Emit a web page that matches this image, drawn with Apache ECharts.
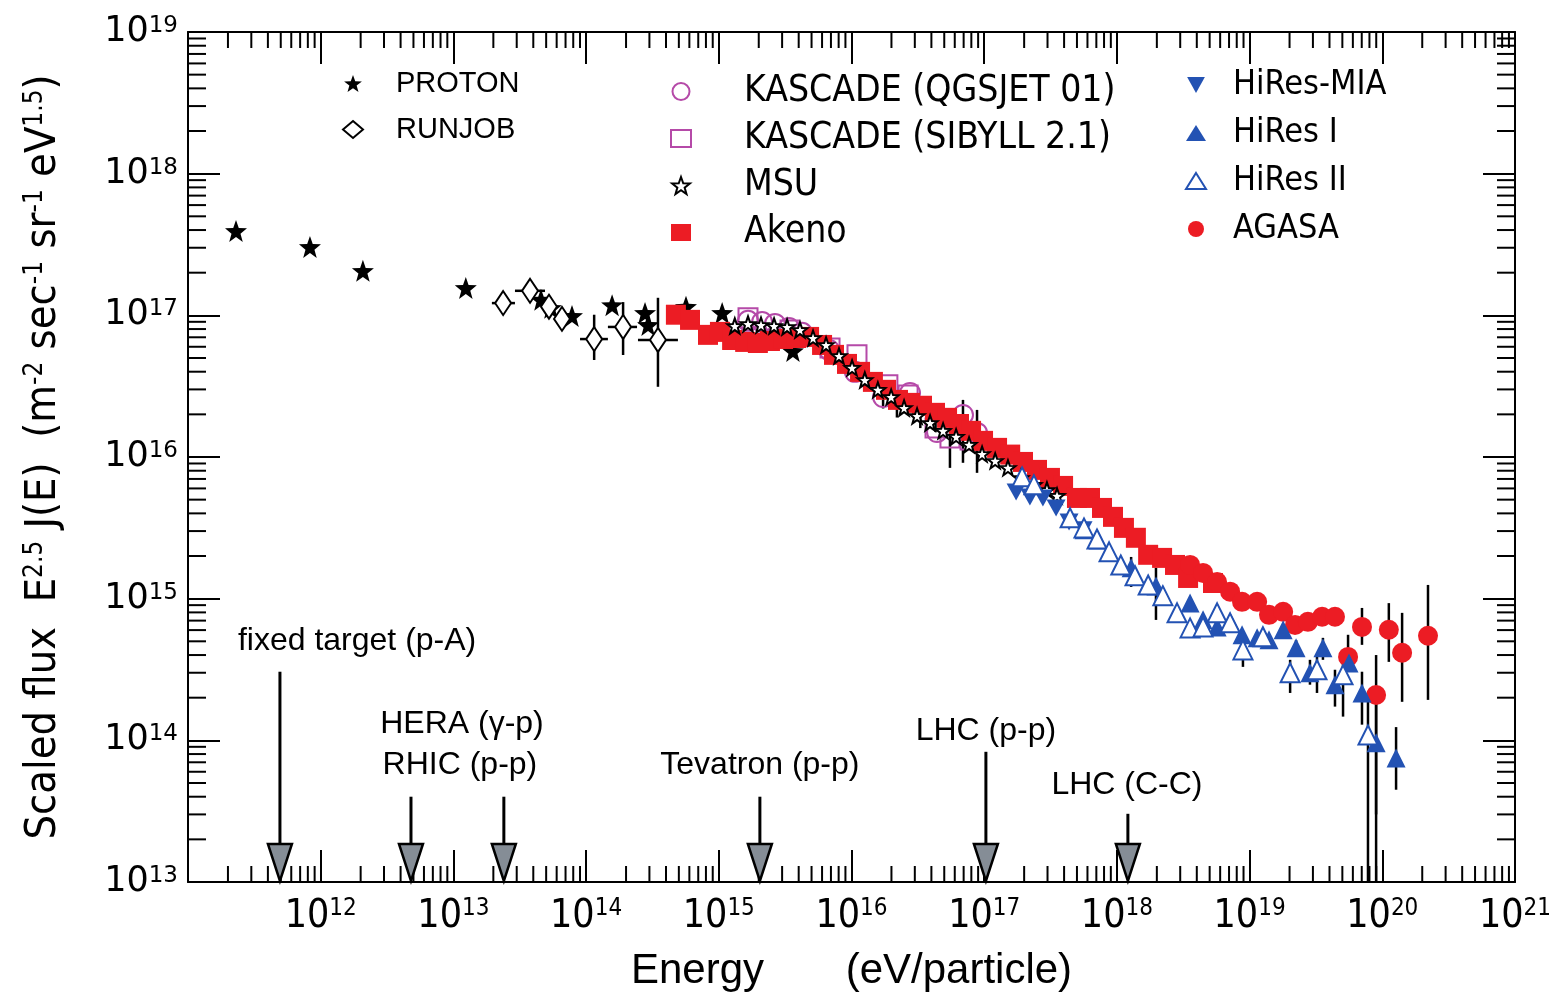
<!DOCTYPE html>
<html><head><meta charset="utf-8">
<script src="https://cdn.jsdelivr.net/npm/echarts/dist/echarts.min.js"></script>
<style>html,body{margin:0;padding:0;background:#fff}#c{width:1562px;height:997px}</style>
</head><body><div id="c"></div>
<script>
// ---------------- data ----------------
const xTickLabels = ['10^11','10^12','10^13','10^14','10^15','10^16','10^17','10^18','10^19','10^20','10^21'];
const proton = [[2.30e11,3.94e17],[8.3e11,3.04e17],[2.08e12,2.06e17],[1.24e13,1.56e17],[4.57e13,1.29e17],[5.43e13,1.13e17],[7.83e13,9.9e16],[1.57e14,1.18e17],[2.78e14,1.04e17],[2.93e14,8.55e16],[5.66e14,1.15e17],[1.06e15,1.04e17],[3.62e15,5.6e16]];
const runjob = [[2.37e13,1.22e17],[3.78e13,1.49e17],[5.25e13,1.15e17],[6.58e13,9.44e16],[1.15e14,6.8e16],[1.90e14,8.28e16],[3.48e14,6.7e16]];
const runjobErrV = [[6.58e13,7.9e16,1.13e17],[1.15e14,4.84e16,1.01e17],[1.90e14,5.25e16,1.24e17],[3.48e14,3.13e16,1.33e17]];
const runjobErrH = [[1.95e13,2.91e13,1.22e17],[2.91e13,4.9e13,1.49e17],[9.0e13,1.46e14,6.8e16],[1.46e14,2.42e14,8.28e16],[2.46e14,4.92e14,6.7e16]];
const kascadeQ = [[1.66e15,9.14e16],[2.12e15,8.98e16],[2.65e15,8.70e16],[3.38e15,8.15e16],[4.24e15,7.52e16],[6.78e15,5.70e16],[1.06e16,3.99e16],[1.73e16,2.65e16],[2.76e16,2.83e16],[4.41e16,1.50e16],[6.92e16,1.98e16],[8.83e16,1.48e16]];
const kascadeQErr = [[6.92e16,9.1e15,2.53e16],[8.83e16,7.73e15,2.15e16]];
const kascadeS = [[1.66e15,9.6e16],[3.44e15,7.89e16],[6.89e15,5.89e16],[1.10e16,5.26e16],[1.88e16,3.23e16],[2.67e16,2.74e16],[4.26e16,1.60e16],[5.52e16,1.36e16],[7.82e16,1.32e16]];
const kascadeSErr = [[5.52e16,8.38e15,2.05e16],[1.73e16,2.2e16,2.6e16],[2.2e16,1.9e16,2.5e16],[3.3e16,1.6e16,2.2e16],[4.3e16,1.5e16,2.0e16]];
const msu = [[1.32e15,8.42e16],[1.66e15,8.70e16],[2.08e15,8.55e16],[2.61e15,8.42e16],[3.27e15,8.28e16],[4.09e15,7.89e16],[5.13e15,6.92e16],[6.43e15,6.18e16],[8.05e15,5.17e16],[1.01e16,4.26e16],[1.26e16,3.50e16],[1.58e16,2.98e16],[1.99e16,2.65e16],[2.49e16,2.22e16],[3.12e16,1.95e16],[3.91e16,1.74e16],[4.90e16,1.53e16],[6.14e16,1.39e16],[7.69e16,1.22e16],[9.64e16,1.05e16],[1.21e17,9.39e15],[1.51e17,8.38e15],[1.89e17,7.12e15],[2.37e17,6.36e15],[2.97e17,5.86e15],[3.54e17,5.32e15]];
const akeno = [[4.75e14,1.01e17],[6.07e14,9.29e16],[8.29e14,7.28e16],[1.02e15,7.64e16],[1.26e15,6.70e16],[1.58e15,6.49e16],[1.97e15,6.38e16],[2.43e15,6.59e16],[3.05e15,6.81e16],[3.82e15,6.92e16],[4.79e15,7.04e16],[6.00e15,6.18e16],[7.38e15,5.26e16],[9.25e15,4.54e16],[1.16e16,3.99e16],[1.45e16,3.39e16],[1.82e16,2.98e16],[2.24e16,2.53e16],[2.76e16,2.41e16],[3.40e16,2.30e16],[4.26e16,2.05e16],[5.25e16,1.89e16],[6.46e16,1.71e16],[7.96e16,1.53e16],[9.8e16,1.30e16],[1.25e17,1.16e16],[1.57e17,1.04e16],[1.96e17,9.23e15],[2.50e17,8.11e15],[3.13e17,7.12e15],[3.93e17,6.25e15],[5.00e17,5.14e15],[6.27e17,5.14e15],[7.72e17,4.37e15],[9.35e17,3.78e15],[1.13e18,3.16e15],[1.39e18,2.69e15],[1.72e18,2.04e15],[2.19e18,1.94e15],[2.74e18,1.73e15],[3.44e18,1.40e15],[5.30e18,1.29e15]];
const hiresMIA = [[1.74e17,5.67e15],[2.21e17,5.23e15],[2.77e17,5.14e15],[3.48e17,4.37e15],[4.36e17,3.48e15],[5.56e17,3.06e15]];
const hiresI = [[5.65e17,3.06e15],[7.21e17,2.60e15],[1.28e18,1.65e15],[1.97e18,1.23e15],[3.56e18,9.33e14],[4.46e18,7.09e14],[5.69e18,6.32e14],[7.13e18,6.86e14],[8.77e18,5.56e14],[1.14e19,5.29e14],[1.40e19,5.12e14],[1.79e19,6.03e14],[2.24e19,4.50e14],[2.85e19,3.0e14],[3.57e19,4.50e14],[4.40e19,2.47e14],[5.61e19,3.52e14],[7.03e19,2.16e14],[8.98e19,9.6e13],[1.27e20,7.5e13]];
const hiresIErr = [[1.28e18,1.21e15,1.97e15],[1.97e18,7.08e14,1.65e15],[2.24e19,3.88e14,5.1e14],[2.85e19,2.47e14,3.70e14],[3.57e19,3.70e14,5.29e14],[4.40e19,1.73e14,3.15e14],[7.03e19,1.29e14,3.05e14],[8.98e19,1.0e13,1.93e14],[1.27e20,4.48e13,1.24e14]];
const hiresII = [[1.93e17,7.24e15],[2.37e17,6.36e15],[4.44e17,3.72e15],[5.65e17,3.16e15],[7.08e17,2.64e15],[8.73e17,2.14e15],[1.07e18,1.73e15],[1.37e18,1.45e15],[1.72e18,1.25e15],[2.22e18,1.05e15],[2.84e18,7.94e14],[3.56e18,6.22e14],[4.46e18,6.32e14],[5.69e18,7.94e14],[7.13e18,6.75e14],[8.91e18,4.35e14],[1.26e19,5.38e14],[2.02e19,3.0e14],[3.22e19,3.15e14],[5.06e19,2.90e14],[7.80e19,1.09e14]];
const hiresIIErr = [[8.91e18,3.30e14,4.87e14],[2.02e19,2.16e14,3.70e14],[3.22e19,2.16e14,3.88e14],[5.06e19,1.47e14,3.70e14],[7.80e19,1.0e13,1.93e14]];
const agasa = [[3.56e18,1.73e15],[4.46e18,1.52e15],[5.69e18,1.31e15],[7.13e18,1.12e15],[8.77e18,9.5e14],[1.14e19,9.5e14],[1.40e19,7.69e14],[1.79e19,8.07e14],[2.20e19,6.53e14],[2.75e19,6.86e14],[3.52e19,7.45e14],[4.40e19,7.45e14],[5.52e19,3.88e14],[7.03e19,6.32e14],[8.98e19,2.09e14],[1.12e20,6.03e14],[1.41e20,4.15e14],[2.21e20,5.47e14]];
const agasaErr = [[5.52e19,3.05e14,5.56e14],[7.03e19,4.72e14,8.6e14],[8.98e19,3.0e13,4.0e14],[1.12e20,3.58e14,9.3e14],[1.41e20,1.87e14,7.94e14],[2.21e20,1.93e14,1.25e15]];
// accelerator arrows: [energy, flux at top of arrow]
const arrowEnergies = [4.93e11, 4.79e12, 2.40e13, 2.04e15, 1.03e17, 1.21e18];
const arrowTops = [3.05e14, 4.0e13, 4.0e13, 4.0e13, 8.3e13, 3.03e13];
const arrowLabels = ['fixed target (p-A)', 'HERA (γ-p)', 'RHIC (p-p)', 'Tevatron (p-p)', 'LHC (p-p)', 'LHC (C-C)'];
const arrowLabelAt = [[1.88e12,5.04e14],[1.16e13,1.29e14],[1.12e13,6.71e13],[2.04e15,6.71e13],[1.03e17,1.17e14],[1.19e18,4.85e13]];

// ---------------- style ----------------
const NARROW = "'Liberation Sans Narrow','DejaVu Sans Condensed',sans-serif";
const REG = "'Liberation Sans',Arial,sans-serif";
const WIDE = "'DejaVu Sans',Verdana,sans-serif";
const RED = '#ec1c24', BLUE = '#2352b3', MAG = '#b54aa8';
const STAR = 'path://M12,0.5 L14.9,8.6 L23.5,8.9 L16.7,14.2 L19.1,22.5 L12,17.6 L4.9,22.5 L7.3,14.2 L0.5,8.9 L9.1,8.6 Z';
const DOWN_TRI = 'path://M0,0 L20,0 L10,18 Z';
const XMIN = 1e11, XMAX = 1e21, YMIN = 1e13, YMAX = 1e19;

const xMinor = [], yMinor = [];
for (let n = 11; n < 21; n++) for (let k = 2; k <= 9; k++) xMinor.push([k * Math.pow(10, n), YMIN]);
for (let n = 13; n < 19; n++) for (let k = 2; k <= 9; k++) yMinor.push([XMIN, k * Math.pow(10, n)]);

function expOf(v) { return Math.round(Math.log10(v)); }

const chart = echarts.init(document.getElementById('c'), null, {renderer: 'canvas'});

function vErr(data, name) {
  return {
    type: 'custom', name: name, data: data, z: 1, clip: false, silent: true,
    encode: {x: 0, y: [1, 2]},
    renderItem: function (p, api) {
      const a = api.coord([api.value(0), api.value(1)]);
      const b = api.coord([api.value(0), api.value(2)]);
      return {type: 'line', shape: {x1: a[0], y1: a[1], x2: b[0], y2: b[1]}, style: {stroke: '#000', lineWidth: 2.5}};
    }
  };
}
function hErr(data, name) {
  return {
    type: 'custom', name: name, data: data, z: 1, clip: false, silent: true,
    encode: {x: [0, 1], y: 2},
    renderItem: function (p, api) {
      const a = api.coord([api.value(0), api.value(2)]);
      const b = api.coord([api.value(1), api.value(2)]);
      return {type: 'line', shape: {x1: a[0], y1: a[1], x2: b[0], y2: b[1]}, style: {stroke: '#000', lineWidth: 2.5}};
    }
  };
}
function sc(name, data, symbol, size, color, border) {
  return {
    type: 'scatter', name: name, data: data, symbol: symbol, symbolSize: size, z: 3,
    itemStyle: {color: color, borderColor: border || color, borderWidth: border ? 2 : 0, opacity: 1},
    emphasis: {disabled: true}
  };
}

const axisCommon = {
  type: 'log', logBase: 10, interval: 1,
  axisLine: {show: true, onZero: false, lineStyle: {color: '#000', width: 2}},
  axisTick: {show: true, inside: true, length: 32, lineStyle: {color: '#000', width: 2}},
  minorTick: {show: false}, splitLine: {show: false}
};

const option = {
  backgroundColor: '#fff',
  animation: false,
  grid: {left: 188, right: 47, top: 32, bottom: 115, containLabel: false},
  xAxis: [
    Object.assign({}, axisCommon, {
      min: XMIN, max: XMAX, position: 'bottom',
      name: 'Energy       (eV/particle)', nameLocation: 'middle', nameGap: 68,
      nameTextStyle: {fontFamily: REG, fontSize: 42, color: '#000'},
      axisLabel: {
        margin: 15, color: '#000',
        formatter: function (v) { const e = expOf(v); return e === 11 ? '' : '{b|10}{s|' + e + '}'; },
        rich: {b: {fontFamily: NARROW, fontSize: 39, color: '#000'}, s: {fontFamily: NARROW, fontSize: 24, verticalAlign: 'top', color: '#000'}}
      }
    }),
    Object.assign({}, axisCommon, {min: XMIN, max: XMAX, position: 'top', axisLabel: {show: false}})
  ],
  yAxis: [
    Object.assign({}, axisCommon, {
      min: YMIN, max: YMAX, position: 'left',
      name: '{t|Scaled flux  E}{s|2.5}{t| J(E)  (m}{s|-2}{t| sec}{s|-1}{t| sr}{s|-1}{t| eV}{s|1.5}{t|)}',
      nameLocation: 'middle', nameRotate: 90, nameGap: 123,
      nameTextStyle: {
        fontFamily: NARROW, fontSize: 43, color: '#000',
        rich: {t: {fontFamily: NARROW, fontSize: 43, color: '#000'}, s: {fontFamily: NARROW, fontSize: 26, verticalAlign: 'top', color: '#000'}}
      },
      axisLabel: {
        margin: 10, color: '#000',
        formatter: function (v) { return '{b|10}{s|' + expOf(v) + '}'; },
        rich: {b: {fontFamily: WIDE, fontSize: 35, color: '#000'}, s: {fontFamily: WIDE, fontSize: 23, verticalAlign: 'top', color: '#000'}}
      }
    }),
    Object.assign({}, axisCommon, {min: YMIN, max: YMAX, position: 'right', axisLabel: {show: false}})
  ],
  legend: [
    {left: 342, top: 69, padding: 0, orient: 'vertical', itemWidth: 20, itemHeight: 17, itemGap: 17, selectedMode: false,
      textStyle: {fontFamily: REG, fontSize: 29, lineHeight: 28, color: '#000', padding: [0, 0, 0, 28]},
      data: ['PROTON', 'RUNJOB']},
    {left: 670, top: 73, padding: 0, orient: 'vertical', itemWidth: 20, itemHeight: 17, itemGap: 10, selectedMode: false,
      textStyle: {fontFamily: NARROW, fontSize: 37, lineHeight: 31, color: '#000', padding: [0, 0, 0, 48]},
      data: ['KASCADE (QGSJET 01)', 'KASCADE (SIBYLL 2.1)', 'MSU', 'Akeno']},
    {left: 1185, top: 68, padding: 0, orient: 'vertical', itemWidth: 20, itemHeight: 16, itemGap: 14, selectedMode: false,
      textStyle: {fontFamily: NARROW, fontSize: 34, lineHeight: 31, color: '#000', padding: [0, 0, 0, 22]},
      data: ['HiRes-MIA', 'HiRes I', 'HiRes II', 'AGASA']}
  ],
  series: [
    // minor ticks on all four sides
    {type: 'custom', data: xMinor, clip: false, silent: true, z: 0, encode: {x: 0, y: 1},
      renderItem: function (p, api) {
        const b = api.coord([api.value(0), YMIN]);
        const t = api.coord([api.value(0), YMAX]);
        return {type: 'group', children: [
          {type: 'line', shape: {x1: b[0], y1: b[1], x2: b[0], y2: b[1] - 16}, style: {stroke: '#000', lineWidth: 2}},
          {type: 'line', shape: {x1: t[0], y1: t[1], x2: t[0], y2: t[1] + 16}, style: {stroke: '#000', lineWidth: 2}}
        ]};
      }},
    {type: 'custom', data: yMinor, clip: false, silent: true, z: 0, encode: {x: 0, y: 1},
      renderItem: function (p, api) {
        const l = api.coord([XMIN, api.value(1)]);
        const r = api.coord([XMAX, api.value(1)]);
        return {type: 'group', children: [
          {type: 'line', shape: {x1: l[0], y1: l[1], x2: l[0] + 18, y2: l[1]}, style: {stroke: '#000', lineWidth: 2}},
          {type: 'line', shape: {x1: r[0], y1: r[1], x2: r[0] - 18, y2: r[1]}, style: {stroke: '#000', lineWidth: 2}}
        ]};
      }},
    // accelerator arrows
    {type: 'custom', data: arrowEnergies.map(function (e, i) { return [e, arrowTops[i]]; }), clip: false, silent: true, z: 2,
      encode: {x: 0, y: 1},
      renderItem: function (p, api) {
        const t = api.coord([api.value(0), api.value(1)]);
        const b = api.coord([api.value(0), YMIN]);
        const hh = 38, hw = 12;
        return {type: 'group', children: [
          {type: 'line', shape: {x1: t[0], y1: t[1], x2: t[0], y2: b[1] - hh}, style: {stroke: '#000', lineWidth: 3}},
          {type: 'polygon', shape: {points: [[t[0] - hw, b[1] - hh], [t[0] + hw, b[1] - hh], [t[0], b[1] - 1]]},
            style: {fill: '#858d96', stroke: '#000', lineWidth: 2.5}}
        ]};
      }},
    {type: 'custom', data: arrowLabelAt.map(function (a, i) { return [a[0], a[1], i]; }), clip: false, silent: true, z: 2,
      encode: {x: 0, y: 1},
      renderItem: function (p, api) {
        const c = api.coord([api.value(0), api.value(1)]);
        return {type: 'text', x: c[0], y: c[1], style: {text: arrowLabels[api.value(2)], fontFamily: REG, fontSize: 32,
          fill: '#000', align: 'center', verticalAlign: 'middle'}};
      }},
    // error bars
    vErr(runjobErrV, 'e1'), hErr(runjobErrH, 'e2'), vErr(kascadeQErr, 'e3'), vErr(kascadeSErr, 'e4'),
    vErr(hiresIErr, 'e5'), vErr(hiresIIErr, 'e6'), vErr(agasaErr, 'e7'),
    // data
    sc('PROTON', proton, STAR, 22, '#000'),
    sc('RUNJOB', runjob, 'diamond', [16, 24], '#fff', '#000'),
    sc('KASCADE (QGSJET 01)', kascadeQ, 'circle', 20, 'rgba(0,0,0,0)', MAG),
    sc('KASCADE (SIBYLL 2.1)', kascadeS, 'rect', 19, 'rgba(0,0,0,0)', MAG),
    sc('Akeno', akeno, 'rect', 20, RED),
    sc('MSU', msu, STAR, 15, '#fff', '#000'),
    sc('AGASA', agasa, 'circle', 20, RED),
    sc('HiRes-MIA', hiresMIA, DOWN_TRI, [19, 17], BLUE),
    sc('HiRes I', hiresI, 'triangle', 19, BLUE),
    sc('HiRes II', hiresII, 'triangle', 19, '#fff', BLUE)
  ]
};
chart.setOption(option);
</script></body></html>
